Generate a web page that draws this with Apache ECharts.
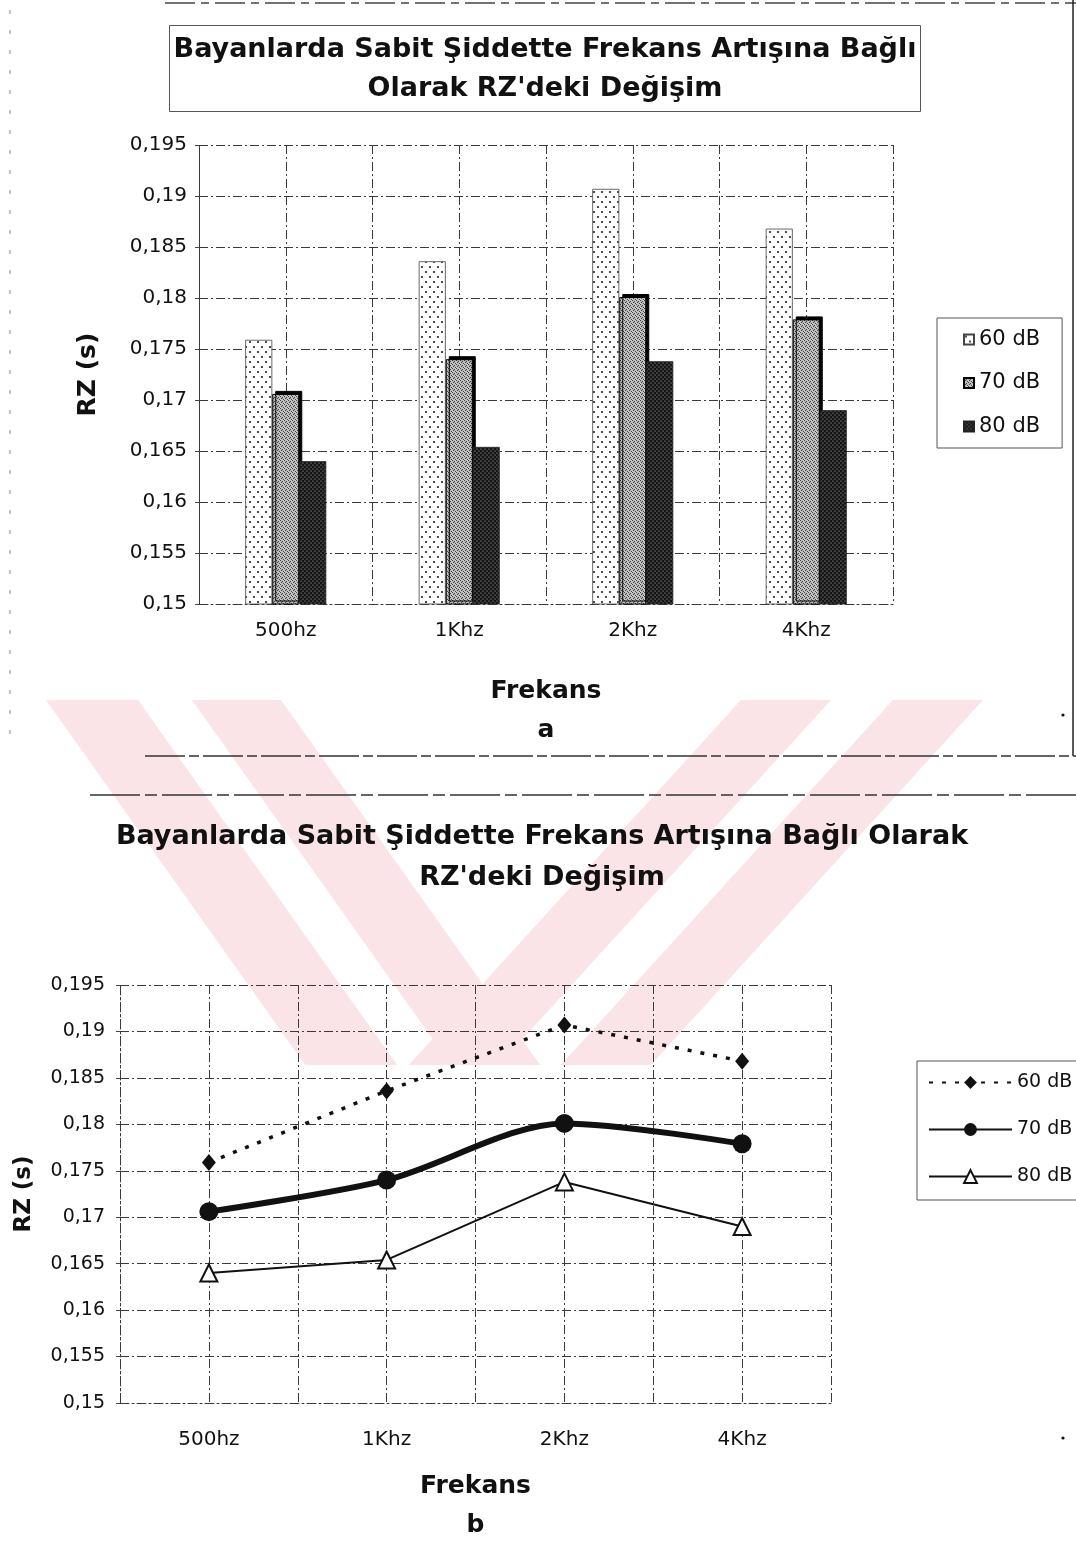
<!DOCTYPE html>
<html>
<head>
<meta charset="utf-8">
<script src="https://cdn.jsdelivr.net/npm/echarts@6/dist/echarts.min.js"></script>
<style>
  html, body { margin: 0; padding: 0; background: #fff; }
  #chart { width: 1076px; height: 1567px; }
</style>
</head>
<body>
<div id="chart"></div>
<script>
// Reaction time (RZ, seconds) of female subjects at constant intensity, by frequency
const categories = ['500hz', '1Khz', '2Khz', '4Khz'];
const seriesNames = ['60 dB', '70 dB', '80 dB'];
const rz60 = [0.1759, 0.1836, 0.1907, 0.1868];
const rz70 = [0.1706, 0.1740, 0.1801, 0.1779];
const rz80 = [0.1640, 0.1654, 0.1738, 0.1690];

// Value axis range and step
const yMin = 0.15;
const yMax = 0.195;
const yStep = 0.005;

const titleA = 'Bayanlarda Sabit Şiddette Frekans Artışına Bağlı\nOlarak RZ\'deki Değişim';
const titleB = 'Bayanlarda Sabit Şiddette Frekans Artışına Bağlı Olarak\nRZ\'deki Değişim';
const xName = 'Frekans';
const yName = 'RZ (s)';

const FONT = '"DejaVu Sans", "Liberation Sans", Arial, sans-serif';
const INK = '#111';

// Fill patterns for the bar series
function makePattern(w, h, bg, fg, dots, r) {
  const c = document.createElement('canvas');
  c.width = w; c.height = h;
  const g = c.getContext('2d');
  g.fillStyle = bg; g.fillRect(0, 0, w, h);
  g.fillStyle = fg;
  dots.forEach(([x, y]) => { g.beginPath(); g.arc(x, y, r, 0, Math.PI * 2); g.fill(); });
  return { image: c, repeat: 'repeat' };
}
const fill60 = makePattern(8, 10, '#ffffff', '#111', [[2, 2], [6, 7]], 1.0);
const fill70 = makePattern(4, 4, '#cfcfcf', '#444', [[0.5, 0.5], [2.5, 1.5], [1.5, 2.5], [3.5, 3.5]], 0.7);
const fill80 = makePattern(4, 4, '#151515', '#bdbdbd', [[1, 1], [3, 3]], 0.6);

const gridLine = { color: '#3a3a3a', width: 1, type: [9, 3, 2, 3] };
const tickFmt = v => v.toFixed(3).replace(/0+$/, '').replace('.', ',');

function valueY(gridIndex, nameGap, nameSize, labelSize, labelMargin) {
  return {
    gridIndex, type: 'value', min: yMin, max: yMax, interval: yStep,
    name: yName, nameLocation: 'middle', nameGap, nameRotate: 90,
    nameTextStyle: { fontFamily: FONT, fontSize: nameSize, fontWeight: 'bold', color: INK },
    axisLine: { show: true, lineStyle: gridLine },
    axisTick: { show: true, length: 4, lineStyle: { color: '#444' } },
    axisLabel: { formatter: tickFmt, fontFamily: FONT, fontSize: labelSize, color: INK, margin: labelMargin },
    splitLine: { show: true, lineStyle: gridLine }
  };
}
function catX(gridIndex, nameGap, letter, labelSize, labelMargin) {
  return {
    gridIndex, type: 'category', data: categories, position: 'bottom',
    name: xName + '\n' + letter, nameLocation: 'middle', nameGap,
    nameTextStyle: { fontFamily: FONT, fontSize: 25, fontWeight: 'bold', color: INK, lineHeight: 39 },
    axisLine: { show: true, lineStyle: gridLine },
    axisTick: { show: false },
    axisLabel: { fontFamily: FONT, fontSize: labelSize, color: INK, margin: labelMargin },
    splitLine: { show: false }
  };
}
// Helper axis that only draws the vertical grid at category centres and edges
function gridX(gridIndex) {
  return {
    gridIndex, type: 'value', min: 0, max: 8, interval: 1, position: 'top',
    axisLine: { show: false }, axisTick: { show: false }, axisLabel: { show: false },
    splitLine: { show: true, lineStyle: gridLine }
  };
}

// Faint diagonal band stamp behind the page, limited to a horizontal strip
function stampBand(xLeft, xRight, slope) {
  const top = 700, bottom = 1065, d = slope * (bottom - top);
  return {
    type: 'polygon', z: -10, silent: true,
    shape: { points: [[xLeft, top], [xRight, top], [xRight + d, bottom], [xLeft + d, bottom]] },
    style: { fill: '#fbe4e8' }
  };
}

const chart = echarts.init(document.getElementById('chart'), null, { renderer: 'canvas' });

chart.setOption({
  backgroundColor: '#ffffff',
  animation: false,
  title: [
    {
      text: titleA, left: 541, top: 25, textAlign: 'center',
      padding: [5, 4, 4, 4], borderColor: '#555', borderWidth: 1,
      textStyle: { fontFamily: FONT, fontSize: 27, fontWeight: 'bold', color: INK, lineHeight: 39 }
    },
    {
      text: titleB, left: 542, top: 816, textAlign: 'center', padding: 0,
      textStyle: { fontFamily: FONT, fontSize: 27, fontWeight: 'bold', color: INK, lineHeight: 41 }
    }
  ],
  legend: [
    {
      orient: 'vertical', left: 937, top: 318, padding: [11, 22, 11, 26],
      itemGap: 22.5, itemWidth: 10, itemHeight: 10, icon: 'rect',
      borderColor: '#555', borderWidth: 1, backgroundColor: '#fff',
      textStyle: { fontFamily: FONT, fontSize: 21, color: INK },
      data: seriesNames
    },
    {
      orient: 'vertical', left: 917, top: 1061, padding: [12, 40, 14, 11],
      itemGap: 28, itemWidth: 83, itemHeight: 16,
      borderColor: '#555', borderWidth: 1, backgroundColor: '#fff',
      textStyle: { fontFamily: FONT, fontSize: 19, color: INK },
      formatter: n => n.replace('Line ', ''),
      data: seriesNames.map(n => 'Line ' + n)
    }
  ],
  grid: [
    { left: 199, top: 145, width: 694, height: 459 },
    { left: 120, top: 985, width: 711, height: 418 }
  ],
  xAxis: [catX(0, 68, 'a', 20, 17), gridX(0), catX(1, 64, 'b', 20, 27), gridX(1)],
  yAxis: [valueY(0, 98, 25, 20, 12), valueY(1, 84, 23, 19, 15)],
  series: [
    {
      name: seriesNames[0], type: 'bar', xAxisIndex: 0, yAxisIndex: 0, data: rz60,
      barWidth: 27, barGap: '0%',
      itemStyle: { color: fill60, borderColor: '#444', borderWidth: 0.8 }
    },
    {
      name: seriesNames[1], type: 'bar', xAxisIndex: 0, yAxisIndex: 0, data: rz70,
      barWidth: 27, barGap: '0%',
      itemStyle: { color: fill70, borderColor: '#000', borderWidth: 1,
        shadowColor: '#000', shadowOffsetX: 3, shadowOffsetY: -3, shadowBlur: 0 }
    },
    {
      name: seriesNames[2], type: 'bar', xAxisIndex: 0, yAxisIndex: 0, data: rz80,
      barWidth: 27, barGap: '0%',
      itemStyle: { color: fill80, borderColor: '#222', borderWidth: 0.8 }
    },
    {
      name: 'Line ' + seriesNames[0], type: 'line', xAxisIndex: 2, yAxisIndex: 1, data: rz60,
      symbol: 'diamond', symbolSize: [14, 17],
      itemStyle: { color: INK },
      lineStyle: { color: INK, width: 3.5, type: [4, 9] }
    },
    {
      name: 'Line ' + seriesNames[1], type: 'line', xAxisIndex: 2, yAxisIndex: 1, data: rz70,
      smooth: 0.3, symbol: 'circle', symbolSize: 19,
      itemStyle: { color: INK },
      lineStyle: { color: INK, width: 6 }
    },
    {
      name: 'Line ' + seriesNames[2], type: 'line', xAxisIndex: 2, yAxisIndex: 1, data: rz80,
      symbol: 'triangle', symbolSize: 17,
      itemStyle: { color: '#fff', borderColor: INK, borderWidth: 2 },
      lineStyle: { color: INK, width: 2 }
    }
  ],
  graphic: [
    // background stamp: two falling and two rising diagonal bands
    stampBand(46, 138, 0.71),
    stampBand(192, 281, 0.71),
    stampBand(741, 831, -0.91),
    stampBand(893, 983, -0.91),
    // page frame rules around the first figure and above the second
    { type: 'line', shape: { x1: 165, y1: 3, x2: 1076, y2: 3 }, style: { stroke: '#444', lineWidth: 1.5, lineDash: [30, 6, 8, 6] }, silent: true },
    { type: 'line', shape: { x1: 1073, y1: 0, x2: 1073, y2: 756 }, style: { stroke: '#222', lineWidth: 1.5 }, silent: true },
    { type: 'line', shape: { x1: 145, y1: 756, x2: 1076, y2: 756 }, style: { stroke: '#333', lineWidth: 1.5, lineDash: [40, 4, 10, 4] }, silent: true },
    { type: 'line', shape: { x1: 90, y1: 795, x2: 1076, y2: 795 }, style: { stroke: '#333', lineWidth: 1.5, lineDash: [50, 5, 12, 5] }, silent: true },
    { type: 'line', shape: { x1: 10, y1: 10, x2: 10, y2: 750 }, style: { stroke: '#888', lineWidth: 1, lineDash: [4, 16] }, silent: true },
    { type: 'circle', shape: { cx: 1063, cy: 715, r: 1.6 }, style: { fill: '#111' }, silent: true },
    { type: 'circle', shape: { cx: 1063, cy: 1438, r: 1.6 }, style: { fill: '#111' }, silent: true }
  ]
});
</script>
</body>
</html>
